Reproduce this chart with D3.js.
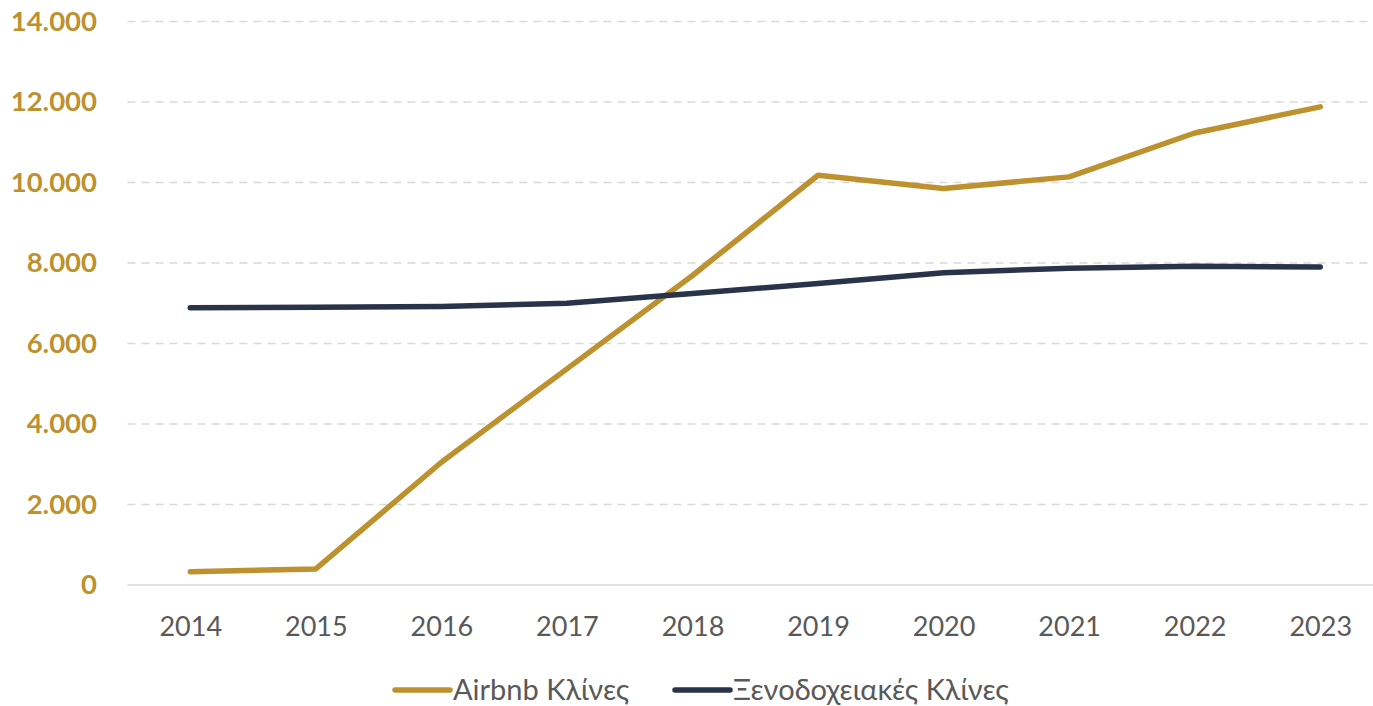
<!DOCTYPE html>
<html>
<head>
<meta charset="utf-8">
<script src="https://cdn.jsdelivr.net/npm/d3@7"></script>
<style>
  body { margin: 0; background: #fff; }
  svg { display: block; font-family: Lato, "Open Sans", sans-serif; }
</style>
</head>
<body>
<svg id="vis" width="1373" height="706"></svg>
<script>
var vis = d3.select("#vis");

// data
var years = ["2014", "2015", "2016", "2017", "2018", "2019", "2020", "2021", "2022", "2023"];
var airbnb = [330, 400, 3050, 5370, 7690, 10180, 9850, 10140, 11230, 11880];
var hotel = [6890, 6900, 6920, 7000, 7240, 7490, 7760, 7870, 7920, 7900];
var yTicks = [0, 2000, 4000, 6000, 8000, 10000, 12000, 14000];
var seriesNames = ["Airbnb Κλίνες", "Ξενοδοχειακές Κλίνες"];
var colors = ["#BE912F", "#29344B"];

// plot area (window.top is reserved, so prefix the names)
var plotLeft = 127.5, plotRight = 1383, plotTop = 21.5, plotBottom = 585;

var x = d3.scalePoint().domain(years).range([plotLeft, plotRight]).padding(0.5);
var y = d3.scaleLinear().domain([0, 14000]).range([plotBottom, plotTop]);

// gridlines
vis.append("g").selectAll("line")
    .data(yTicks)
    .join("line")
    .attr("x1", plotLeft)
    .attr("x2", 1373)
    .attr("y1", d => y(d))
    .attr("y2", d => y(d))
    .attr("stroke", "#d9d9d9")
    .attr("stroke-width", 1.5)
    .attr("stroke-dasharray", d => d === 0 ? null : "8 6");

// y axis labels
var fmt = d => d3.format(",")(d).replace(/,/g, ".");
var yAxis = vis.append("g")
    .attr("transform", `translate(${97},0)`)
    .call(d3.axisLeft(y).tickValues(yTicks).tickFormat(fmt).tickSize(0).tickPadding(0));
yAxis.select(".domain").remove();
yAxis.selectAll("text")
    .attr("fill", "#BE912F")
    .attr("font-size", "27.5px")
    .attr("font-weight", "bold")
    .attr("font-family", "Lato, sans-serif");

// x axis labels
var xAxis = vis.append("g")
    .attr("transform", `translate(0,${plotBottom})`)
    .call(d3.axisBottom(x).tickSize(0).tickPadding(32));
xAxis.select(".domain").remove();
xAxis.selectAll("text")
    .attr("fill", "#595959")
    .attr("font-size", "27px")
    .attr("font-family", "Lato, sans-serif");

// lines
var line = d3.line()
    .x((d, i) => x(years[i]))
    .y(d => y(d));

[airbnb, hotel].forEach(function (vals, k) {
    vis.append("path")
        .datum(vals)
        .attr("d", line)
        .attr("fill", "none")
        .attr("stroke", colors[k])
        .attr("stroke-width", 5.5)
        .attr("stroke-linecap", "round")
        .attr("stroke-linejoin", "round");
});

// legend
var legendPos = [395, 675];
var lg = vis.append("g").selectAll("g")
    .data(seriesNames)
    .join("g")
    .attr("transform", (d, i) => `translate(${legendPos[i]},690)`);
lg.append("line")
    .attr("x1", 0)
    .attr("x2", 55)
    .attr("stroke", (d, i) => colors[i])
    .attr("stroke-width", 5.5)
    .attr("stroke-linecap", "round");
lg.append("text")
    .attr("x", 58)
    .attr("dy", "0.35em")
    .attr("font-size", "29px")
    .attr("fill", "#595959")
    .text(d => d);
</script>
</body>
</html>
